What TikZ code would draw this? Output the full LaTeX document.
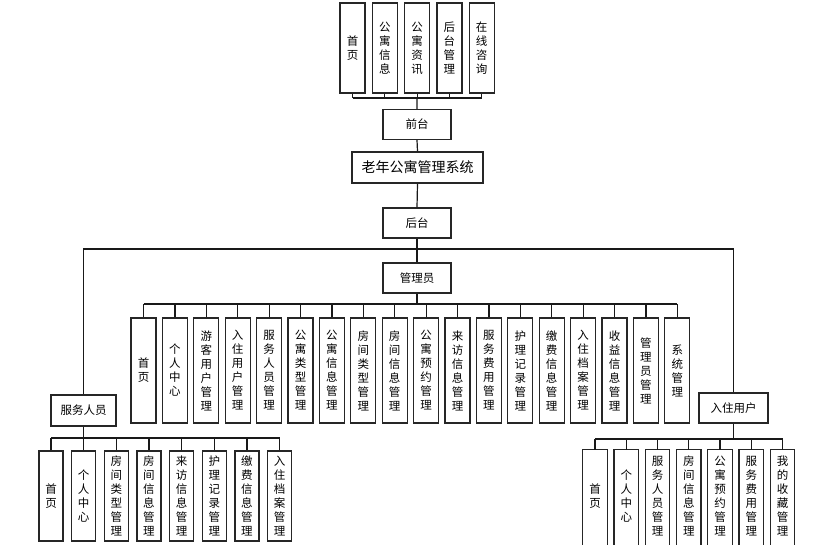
\documentclass[tikz,border=0pt]{standalone}
\usepackage{fontspec}
\newfontfamily\cjk{Noto Sans CJK SC}
\usetikzlibrary{calc}
\begin{document}
\begin{tikzpicture}[x=1pt,y=-1pt,
  box/.style={draw=black!85, line width=1.2pt, inner sep=0pt, align=center,
    font=\cjk\fontsize{11.5}{14}\selectfont},
  topbox/.style={box, minimum width=25, minimum height=90},
  adbox/.style={box, minimum width=25, minimum height=105},
  sbox/.style={box, minimum width=24, minimum height=90},
  ubox/.style={inner sep=0pt, align=center, minimum width=24, minimum height=92,
    font=\cjk\fontsize{11.5}{14}\selectfont},
  hbox/.style={box, minimum width=68, minimum height=30},
  conn/.style={draw=black!90, line width=1.2pt}]
\useasboundingbox (0,0) rectangle (840,544);
\clip (0,0) rectangle (840,544);
\fill[white] (0,0) rectangle (840,544);

% top row
\foreach \t [count=\i] in {{首\\页},{公\\寓\\信\\息},{公\\寓\\资\\讯},{后\\台\\管\\理},{在\\线\\咨\\询}}{
  \node[topbox] (t\i) at ({352.5+32.3*(\i-1)},48) {\t};
}
\node[hbox] (qt) at (417,124.5) {前台};
\node[box, minimum width=131, minimum height=31, font=\cjk\fontsize{14}{16}\selectfont] (sys) at (417.5,167.5) {老年公寓管理系统};
\node[hbox] (ht) at (417,223) {后台};
\node[hbox] (gly) at (417,278) {管理员};
\node[box, minimum width=65, minimum height=31] (fw) at (83.5,410.5) {服务人员};
\node[box, minimum width=69, minimum height=30] (rz) at (733.5,408) {入住用户};

% admin row
\foreach \t [count=\i] in {{首\\页},{个\\人\\中\\心},{游\\客\\用\\户\\管\\理},{入\\住\\用\\户\\管\\理},{服\\务\\人\\员\\管\\理},{公\\寓\\类\\型\\管\\理},{公\\寓\\信\\息\\管\\理},{房\\间\\类\\型\\管\\理},{房\\间\\信\\息\\管\\理},{公\\寓\\预\\约\\管\\理},{来\\访\\信\\息\\管\\理},{服\\务\\费\\用\\管\\理},{护\\理\\记\\录\\管\\理},{缴\\费\\信\\息\\管\\理},{入\\住\\档\\案\\管\\理},{收\\益\\信\\息\\管\\理},{管\\理\\员\\管\\理},{系\\统\\管\\理}}{
  \node[adbox] (a\i) at ({143.5+31.4*(\i-1)},370.5) {\t};
  \draw[conn] (a\i.north) -- (a\i.north |- 0,304);
}
% service row
\foreach \t [count=\i] in {{首\\页},{个\\人\\中\\心},{房\\间\\类\\型\\管\\理},{房\\间\\信\\息\\管\\理},{来\\访\\信\\息\\管\\理},{护\\理\\记\\录\\管\\理},{缴\\费\\信\\息\\管\\理},{入\\住\\档\\案\\管\\理}}{
  \node[sbox] (s\i) at ({51+32.65*(\i-1)},496) {\t};
  \draw[conn] (s\i.north) -- (s\i.north |- 0,438);
}
% user row
\foreach \t [count=\i] in {{首\\页},{个\\人\\中\\心},{服\\务\\人\\员\\管\\理},{房\\间\\信\\息\\管\\理},{公\\寓\\预\\约\\管\\理},{服\\务\\费\\用\\管\\理},{我\\的\\收\\藏\\管\\理}}{
  \node[ubox] (u\i) at ({595+31.25*(\i-1)},496) {\t};
  \draw[draw=black!85, line width=1.2pt] (u\i.north west) rectangle ($(u\i.south east)+(0,30)$);
  \draw[conn] (u\i.north) -- (u\i.north |- 0,439);
}

% top connectors
\foreach \i in {1,...,5}{ \draw[conn] (t\i.south) -- (t\i.south |- 0,98); }
\draw[conn] (t1.south |- 0,98) -- (t5.south |- 0,98);
\draw[conn] (t3.south |- 0,98) -- (qt.north);
\draw[conn] (qt.south) -- (sys.north);
\draw[conn] (sys.south) -- (ht.north);
\draw[conn] (ht.south) -- (gly.north);
\draw[conn] (fw.north) -- (fw.north |- 0,249) -- (rz.north |- 0,249) -- (rz.north);
% admin bus
\draw[conn] (gly.south) -- (gly.south |- 0,304);
\draw[conn] (a1.north |- 0,304) -- (a18.north |- 0,304);
% service bus
\draw[conn] (fw.south) -- (fw.south |- 0,438);
\draw[conn] (s1.north |- 0,438) -- (s8.north |- 0,438);
% user bus
\draw[conn] (rz.south) -- (rz.south |- 0,439);
\draw[conn] (u1.north |- 0,439) -- (u7.north |- 0,439);
\end{tikzpicture}
\end{document}
